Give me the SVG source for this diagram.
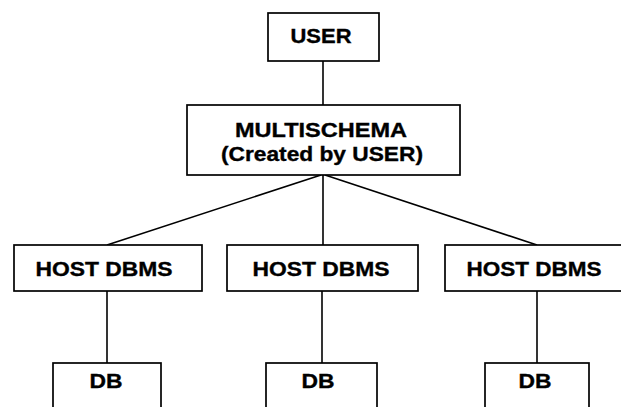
<svg xmlns="http://www.w3.org/2000/svg" width="621" height="407" viewBox="0 0 621 407">
  <style>
    .box { fill: #ffffff; stroke: #000000; stroke-width: 1.7; }
    .edge { fill: none; stroke: #000000; stroke-width: 1.6; }
    .label { font-family: "Liberation Sans", Arial, sans-serif; font-weight: bold; font-size: 20px; fill: #000000; stroke: #000000; stroke-width: 0.35; text-anchor: middle; }
  </style>
  <rect width="621" height="407" fill="#ffffff"/>

  <!-- connectors -->
  <g id="connectors">
    <line class="edge" x1="323" y1="61" x2="323" y2="105"/>
    <line class="edge" x1="321" y1="175" x2="107" y2="245"/>
    <line class="edge" x1="323" y1="175" x2="323" y2="245"/>
    <line class="edge" x1="325" y1="175" x2="537" y2="245"/>
    <line class="edge" x1="107" y1="291" x2="107" y2="363"/>
    <line class="edge" x1="322" y1="291" x2="322" y2="363"/>
    <line class="edge" x1="537" y1="291" x2="537" y2="363"/>
  </g>

  <g id="user">
    <rect class="box" x="268" y="13" width="111" height="48"/>
    <text class="label" x="321" y="43" textLength="61" lengthAdjust="spacingAndGlyphs">USER</text>
  </g>

  <g id="multischema">
    <rect class="box" x="187" y="105" width="273" height="70"/>
    <text class="label" x="321" y="137" textLength="172" lengthAdjust="spacingAndGlyphs">MULTISCHEMA</text>
    <text class="label" x="322" y="161" textLength="202" lengthAdjust="spacingAndGlyphs">(Created by USER)</text>
  </g>

  <g id="host1">
    <rect class="box" x="14" y="245" width="188" height="46"/>
    <text class="label" x="104" y="276" textLength="137" lengthAdjust="spacingAndGlyphs">HOST DBMS</text>
  </g>
  <g id="host2">
    <rect class="box" x="227" y="245" width="191" height="46"/>
    <text class="label" x="321" y="276" textLength="137" lengthAdjust="spacingAndGlyphs">HOST DBMS</text>
  </g>
  <g id="host3">
    <rect class="box" x="445" y="245" width="184" height="46"/>
    <text class="label" x="534" y="276" textLength="135" lengthAdjust="spacingAndGlyphs">HOST DBMS</text>
  </g>

  <g id="db1">
    <rect class="box" x="53" y="363" width="108" height="60"/>
    <text class="label" x="106" y="388" textLength="33" lengthAdjust="spacingAndGlyphs">DB</text>
  </g>
  <g id="db2">
    <rect class="box" x="266" y="363" width="111" height="60"/>
    <text class="label" x="318" y="388" textLength="33" lengthAdjust="spacingAndGlyphs">DB</text>
  </g>
  <g id="db3">
    <rect class="box" x="485" y="363" width="104" height="60"/>
    <text class="label" x="535" y="388" textLength="33" lengthAdjust="spacingAndGlyphs">DB</text>
  </g>
</svg>
